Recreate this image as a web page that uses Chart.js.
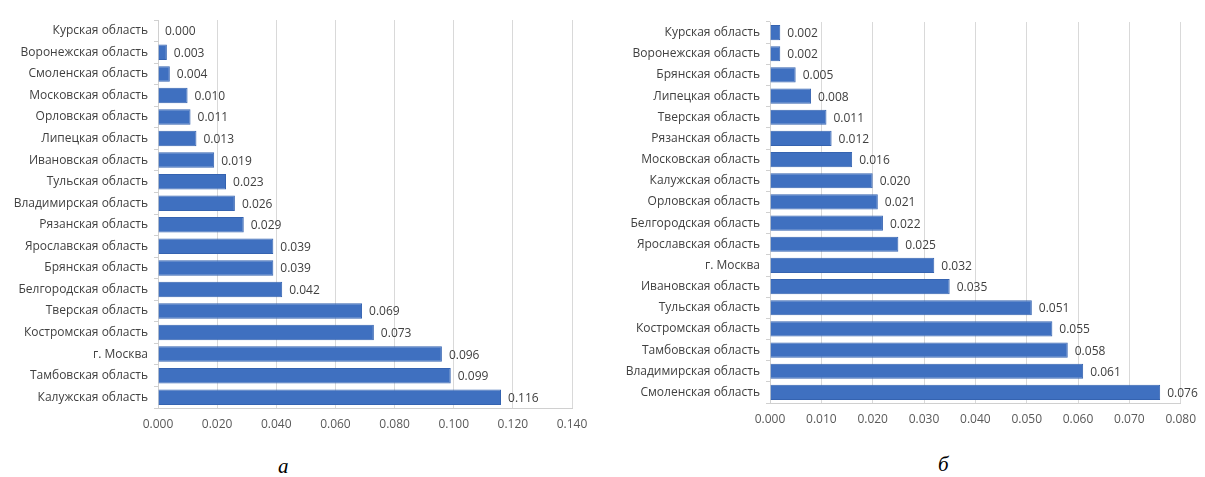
<!DOCTYPE html>
<html>
<head>
<meta charset="utf-8">
<script src="https://cdn.jsdelivr.net/npm/chart.js@4"></script>
<style>
  body { margin: 0; background: #fff; width: 1205px; height: 477px; position: relative; overflow: hidden; }
  canvas { position: absolute; top: 0; }
  #chartA { left: 0; }
  #chartB { left: 600px; }
  .cap { position: absolute; font-family: "Liberation Serif", serif; font-style: italic; font-size: 21px; color: #000; }
</style>
</head>
<body>
<canvas id="chartA" width="600" height="450"></canvas>
<canvas id="chartB" width="605" height="450"></canvas>
<div class="cap" style="left:278px; top:454px;">а</div>
<div class="cap" style="left:938px; top:452px;">б</div>
<script>
// chart а
var regionsA = ["Курская область", "Воронежская область", "Смоленская область", "Московская область",
  "Орловская область", "Липецкая область", "Ивановская область", "Тульская область",
  "Владимирская область", "Рязанская область", "Ярославская область", "Брянская область",
  "Белгородская область", "Тверская область", "Костромская область", "г. Москва",
  "Тамбовская область", "Калужская область"];
var valuesA = [0.000, 0.003, 0.004, 0.010, 0.011, 0.013, 0.019, 0.023, 0.026, 0.029,
  0.039, 0.039, 0.042, 0.069, 0.073, 0.096, 0.099, 0.116];

// chart б
var regionsB = ["Курская область", "Воронежская область", "Брянская область", "Липецкая область",
  "Тверская область", "Рязанская область", "Московская область", "Калужская область",
  "Орловская область", "Белгородская область", "Ярославская область", "г. Москва",
  "Ивановская область", "Тульская область", "Костромская область", "Тамбовская область",
  "Владимирская область", "Смоленская область"];
var valuesB = [0.002, 0.002, 0.005, 0.008, 0.011, 0.012, 0.016, 0.020, 0.021, 0.022,
  0.025, 0.032, 0.035, 0.051, 0.055, 0.058, 0.061, 0.076];

var fontFam = "'Open Sans', sans-serif";

// value labels next to each bar
var valueLabels = {
  id: 'valueLabels',
  afterDatasetsDraw: function(chart) {
    var ctx = chart.ctx;
    var meta = chart.getDatasetMeta(0);
    var data = chart.data.datasets[0].data;
    ctx.save();
    ctx.font = "12px " + fontFam;
    ctx.fillStyle = "#404040";
    ctx.textBaseline = "middle";
    ctx.textAlign = "left";
    meta.data.forEach(function(bar, i) {
      ctx.fillText(data[i].toFixed(3), bar.x + 7, bar.y + 1);
    });
    ctx.restore();
  }
};

function makeChart(id, labels, values, max, step, yWidth, padTop, padRight, xHeight) {
  return new Chart(document.getElementById(id), {
    type: 'bar',
    data: {
      labels: labels,
      datasets: [{
        data: values,
        backgroundColor: '#3f70c0',
        borderColor: '#3563b0',
        borderWidth: 1,
        categoryPercentage: 0.72,
        barPercentage: 1.0
      }]
    },
    options: {
      indexAxis: 'y',
      responsive: false,
      animation: false,
      layout: { padding: { top: padTop, right: padRight, left: 0, bottom: 0 } },
      plugins: { legend: { display: false }, tooltip: { enabled: false } },
      scales: {
        x: {
          min: 0, max: max,
          ticks: {
            stepSize: step,
            color: '#595959',
            font: { family: fontFam, size: 12 },
            padding: 9,
            callback: function(v) { return v.toFixed(3); }
          },
          grid: { color: '#d9d9d9', drawTicks: false },
          border: { color: '#d0d0d0' },
          afterFit: function(s) { s.height = xHeight; }
        },
        y: {
          ticks: { color: '#404040', font: { family: fontFam, size: 12 }, padding: 6, autoSkip: false },
          grid: { drawOnChartArea: false, offset: true, tickLength: 4, color: '#d0d0d0' },
          border: { color: '#d0d0d0' },
          afterFit: function(s) { s.width = yWidth; }
        }
      }
    },
    plugins: [valueLabels]
  });
}

makeChart('chartA', regionsA, valuesA, 0.14, 0.02, 158, 20, 28, 42);
makeChart('chartB', regionsB, valuesB, 0.08, 0.01, 170, 22, 18, 47);
</script>
</body>
</html>
